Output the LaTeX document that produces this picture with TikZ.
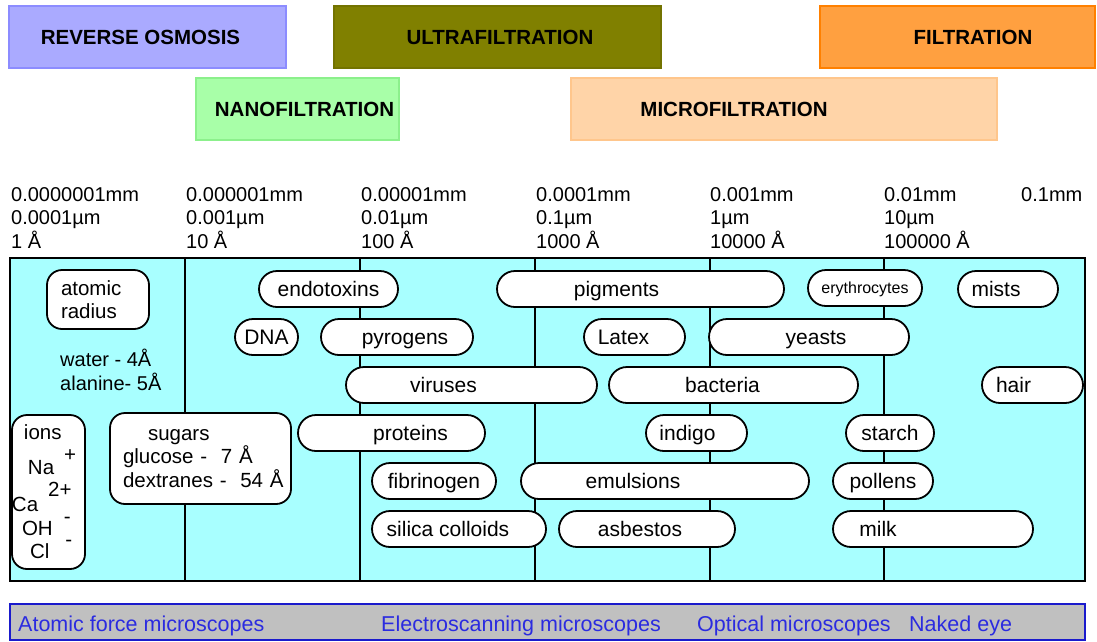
\documentclass[tikz,border=0pt]{standalone}
\usepackage{fontspec}
\setmainfont{Liberation Sans}
\usetikzlibrary{positioning, shapes.misc}
\definecolor{roblue}{HTML}{AAAAFF}
\definecolor{roedge}{HTML}{8C8CFF}
\definecolor{ufolive}{HTML}{808000}
\definecolor{filorange}{HTML}{FFA040}
\definecolor{filedge}{HTML}{FF8000}
\definecolor{nfgreen}{HTML}{A8FFA8}
\definecolor{nfedge}{HTML}{8CF08C}
\definecolor{mfpeach}{HTML}{FFD4A8}
\definecolor{mfedge}{HTML}{FFC68C}
\definecolor{panelcyan}{HTML}{A8FFFF}
\definecolor{bargray}{HTML}{C0C0C0}
\definecolor{baredge}{HTML}{1A1ACC}
\definecolor{scopeblue}{HTML}{2B2BE0}
% shift a label sideways inside its box (d in pt, + = right)
\newcommand{\nudge}[2]{\ifdim#1pt<0pt #2\hspace*{-2\dimexpr#1pt\relax}\else\hspace*{2\dimexpr#1pt\relax}#2\fi}

\begin{document}
\begin{tikzpicture}[x=1pt, y=-1pt,
  band/.style={rectangle, line width=2pt, minimum height=62pt, inner sep=0pt,
               font=\fontsize{20.5}{24}\selectfont\bfseries},
  pill/.style={rounded rectangle, draw=black, line width=1.8pt, fill=white,
               minimum height=36pt, inner sep=0pt, text height=19pt, text depth=4.5pt,
               font=\fontsize{21}{24}\selectfont},
  tag/.style={rectangle, rounded corners=15pt, draw=black, line width=1.8pt, fill=white,
              inner sep=0pt, align=left, font=\fontsize{20.5}{23.5}\selectfont},
  size/.style={anchor=base west, align=left, inner sep=0pt, font=\fontsize{20}{23.5}\selectfont},
  scope/.style={anchor=base west, inner sep=0pt, text=scopeblue, font=\fontsize{21.5}{24}\selectfont}]
  \useasboundingbox (0,0) rectangle (1097,641);

  % process bands
  \node[band, fill=roblue, draw=roedge, minimum width=277pt] (ro) at (147.5,37) {\nudge{-7}{REVERSE OSMOSIS}};
  \node[band, fill=ufolive, draw=ufolive!90!black, minimum width=327pt] (uf) at (497.5,37) {\nudge{2.5}{ULTRAFILTRATION}};
  \node[band, fill=filorange, draw=filedge, minimum width=275pt] (fil) at (957.5,37) {\nudge{15.5}{FILTRATION}};
  \node[band, fill=nfgreen, draw=nfedge, minimum width=203pt] (nf) at (297.5,109) {\nudge{7}{NANOFILTRATION}};
  \node[band, fill=mfpeach, draw=mfedge, minimum width=426pt] (mf) at (784,109) {\nudge{-50}{MICROFILTRATION}};

  % size scale (base = last line)
  \foreach \x/\mm/\um/\an [count=\i] in {11/0.0000001mm/0.0001µm/1 Å, 186/0.000001mm/0.001µm/10 Å,
      361/0.00001mm/0.01µm/100 Å, 536/0.0001mm/0.1µm/1000 Å, 710/0.001mm/1µm/10000 Å, 884/0.01mm/10µm/100000 Å}
    \node[size] (sz\i) at (\x,248) {\mm\\\um\\\an};
  \node[size] (sz7) at (1021,201) {0.1mm};

  \node[draw=black, line width=2pt, fill=panelcyan, minimum width=1075pt, minimum height=323pt,
        inner sep=0pt] (panel) at (547.5,419.5) {};
  \foreach \x in {185,360,535,710,884}
    \draw[line width=2.8pt] (\x,258) -- (\x,581);

  % first column
  \node[tag, text width=102pt, minimum height=59pt] (atomic) at (98,299.5)
    {\hspace*{14pt}atomic\\\hspace*{14pt}radius};
  \node[size] (water) at (60,390) {water - 4Å\\alanine- 5Å};
  \node[tag, text width=73pt, minimum height=154pt] (ions) at (48.5,492)
    {\hspace*{12pt}ions\\[11pt]
     \hspace*{16pt}Na\hspace*{10pt}\smash{\raisebox{13pt}{+}}\\[14pt]
     Ca\hspace*{10pt}\smash{\raisebox{15pt}{2+}}\\
     \hspace*{10pt}OH\hspace*{11pt}\smash{\raisebox{12pt}{-}}\\
     \hspace*{18pt}Cl\hspace*{16pt}\smash{\raisebox{12pt}{-}}};
  \node[tag, text width=181pt, minimum height=91pt] (sugars) at (200.5,458.5)
    {\hspace*{38pt}sugars\\\hspace*{13pt}glucose -\ \ 7 Å\\\hspace*{13pt}dextranes -\ \ 54 Å};

  % particles
  \node[pill, minimum width=139pt] (endotox) at (328.5,289) {endotoxins};
  \node[pill, minimum width=287pt] (pigm) at (640.5,289) {\nudge{-24}{pigments}};
  \node[pill, minimum width=114pt, font=\fontsize{16}{18}\selectfont, text height=15pt] (ery) at (865,288) {erythrocytes};
  \node[pill, minimum width=100pt] (mists) at (1008,289) {\nudge{-12}{mists}};
  \node[pill, minimum width=63pt] (dna) at (266.5,337) {DNA};
  \node[pill, minimum width=152pt] (pyro) at (397,337) {\nudge{8}{pyrogens}};
  \node[pill, minimum width=101pt] (latex) at (634.5,337) {\nudge{-11}{Latex}};
  \node[pill, minimum width=200pt] (yeasts) at (809,337) {\nudge{7}{yeasts}};
  \node[pill, minimum width=251pt] (virus) at (471.5,385) {\nudge{-28}{viruses}};
  \node[pill, minimum width=249pt] (bact) at (733.5,385) {\nudge{-11}{bacteria}};
  \node[pill, minimum width=101pt] (hair) at (1032.5,385) {\nudge{-19}{hair}};
  \node[pill, minimum width=187pt] (prot) at (391.5,433) {\nudge{19}{proteins}};
  \node[pill, minimum width=101pt] (indigo) at (696.5,433) {\nudge{-9}{indigo}};
  \node[pill, minimum width=88pt] (starch) at (890,433) {starch};
  \node[pill, minimum width=124pt] (fibrin) at (434,481) {fibrinogen};
  \node[pill, minimum width=288pt] (emuls) at (665,481) {\nudge{-32}{emulsions}};
  \node[pill, minimum width=100pt] (pollen) at (883,481) {pollens};
  \node[pill, minimum width=174pt] (silica) at (459,529) {\nudge{-11}{silica colloids}};
  \node[pill, minimum width=176pt] (asbest) at (647,529) {\nudge{-7}{asbestos}};
  \node[pill, minimum width=200pt] (milk) at (933,529) {\nudge{-55}{milk}};

  % how to see them
  \node[draw=baredge, fill=bargray, line width=2pt, minimum width=1075pt, minimum height=36pt,
        inner sep=0pt] (bar) at (547.5,622) {};
  \node[scope] (afm) at (18,631) {Atomic force microscopes};
  \node[scope] (esm) at (381,631) {Electroscanning microscopes};
  \node[scope] (opt) at (697,631) {Optical microscopes};
  \node[scope] (eye) at (909,631) {Naked eye};
\end{tikzpicture}
\end{document}
